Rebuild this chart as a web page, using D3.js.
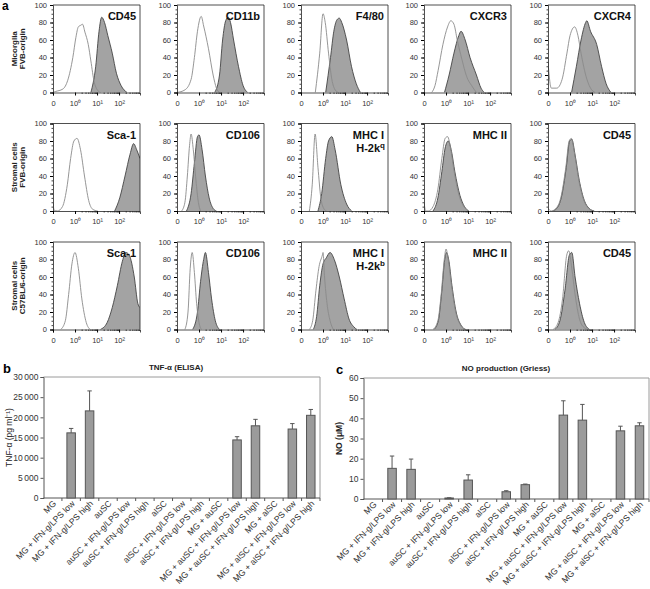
<!DOCTYPE html>
<html><head><meta charset="utf-8">
<script src="https://cdn.jsdelivr.net/npm/d3@7"></script>
<style>body{margin:0;background:#fff}svg{display:block;font-family:"Liberation Sans",Arial,sans-serif}</style>
</head><body><svg id="fig" width="650" height="589"></svg>
<script>
// ---------- DATA ----------
const rowLabels = [["Micorglia","FVB-origin"],["Stromal cells","FVB-origin"],["Stromal cells","C57BL/6-origin"]];
const markerLabels = [
  [["CD45"],["CD11b"],["F4/80"],["CXCR3"],["CXCR4"]],
  [["Sca-1"],["CD106"],["MHC I","H-2k","q"],["MHC II"],["CD45"]],
  [["Sca-1"],["CD106"],["MHC I","H-2k","b"],["MHC II"],["CD45"]]
];
// histogram curves: [log10 fluorescence, % of max]
const isotypeCurves = [
  [
    [[-1,0],[-0.9,1],[-0.55,4],[-0.33,14],[-0.1,40],[0.04,63],[0.15,75],[0.27,77],[0.34,78],[0.45,69],[0.6,55],[0.72,36],[0.87,12],[1.01,3],[1.16,0]],
    [[-1,0],[-0.64,3],[-0.36,15],[-0.21,40],[-0.07,70],[0.1,87],[0.21,76],[0.43,50],[0.64,20],[0.79,5],[0.93,0]],
    [[-0.35,0],[-0.15,45],[0,90],[0.1,80],[0.25,45],[0.4,15],[0.55,3],[0.7,0]],
    [[-0.65,0],[-0.5,8],[-0.36,25],[-0.14,55],[0.07,75],[0.22,82],[0.36,78],[0.51,60],[0.72,38],[0.94,18],[1.16,8],[1.38,0]],
    [[-1,35],[-0.85,5],[-0.6,5],[-0.36,15],[-0.14,45],[0,65],[0.21,75],[0.36,65],[0.5,45],[0.71,20],[0.93,5],[1.14,0]]
  ],
  [
    [[-1,10],[-0.95,1],[-0.8,0],[-0.57,5],[-0.35,30],[-0.2,60],[-0.05,80],[0.09,83],[0.25,70],[0.43,40],[0.62,12],[0.8,2],[1.03,0]],
    [[-0.79,0],[-0.64,10],[-0.53,40],[-0.43,75],[-0.36,88],[-0.26,70],[-0.14,35],[-0.03,10],[0.07,0]],
    [[-0.62,0],[-0.49,30],[-0.36,88],[-0.23,50],[-0.1,15],[0.03,3],[0.16,0]],
    [[-1,10],[-0.92,0],[-0.8,0],[-0.59,5],[-0.37,25],[-0.19,60],[-0.04,83],[0.07,85],[0.22,70],[0.37,45],[0.59,18],[0.81,5],[1.03,0]],
    [[-1,3],[-0.85,0],[-0.64,3],[-0.42,15],[-0.19,50],[-0.04,80],[0.06,83],[0.21,65],[0.4,35],[0.63,12],[0.85,3],[1.07,0]]
  ],
  [
    [[-0.65,0],[-0.44,10],[-0.29,40],[-0.14,75],[0,88],[0.15,70],[0.31,35],[0.51,8],[0.69,0]],
    [[-0.64,0],[-0.5,20],[-0.4,70],[-0.31,88],[-0.21,65],[-0.11,30],[0,8],[0.11,0]],
    [[-0.62,0],[-0.47,10],[-0.32,45],[-0.18,72],[-0.03,85],[0,88],[0.07,60],[0.18,30],[0.32,10],[0.47,0]],
    [[-0.59,0],[-0.37,10],[-0.22,40],[-0.07,82],[0,92],[0.1,80],[0.25,50],[0.44,20],[0.66,5],[0.88,0]],
    [[-0.77,0],[-0.54,8],[-0.34,35],[-0.15,85],[-0.06,90],[0.08,70],[0.23,40],[0.43,12],[0.65,2],[0.85,0]]
  ]
];
const stainedCurves = [
  [
    [[0.72,0],[0.94,30],[1.09,70],[1.21,86],[1.34,80],[1.49,65],[1.69,45],[1.88,22],[2.09,8],[2.36,0]],
    [[0.71,0],[0.93,20],[1.07,60],[1.21,82],[1.33,86],[1.43,80],[1.57,60],[1.79,30],[2.0,8],[2.21,0]],
    [[0.12,0],[0.34,40],[0.49,70],[0.63,83],[0.74,85],[0.85,80],[1.07,60],[1.29,30],[1.51,10],[1.7,0]],
    [[-0.07,0],[0.14,20],[0.36,45],[0.58,65],[0.68,70],[0.87,60],[1.09,40],[1.38,20],[1.59,5],[1.74,0]],
    [[0.07,0],[0.29,30],[0.5,60],[0.71,80],[0.76,82],[0.93,70],[1.21,55],[1.43,30],[1.64,10],[1.86,0]]
  ],
  [
    [[1.8,0],[2.03,15],[2.27,40],[2.5,65],[2.66,77],[2.8,70],[2.95,60]],
    [[-0.57,0],[-0.36,20],[-0.21,55],[-0.07,85],[0,87],[0.14,70],[0.29,40],[0.46,15],[0.64,3],[0.79,0]],
    [[-0.23,0],[-0.06,20],[0.12,60],[0.25,80],[0.4,85],[0.55,70],[0.81,30],[1.07,8],[1.3,0]],
    [[-0.59,0],[-0.37,15],[-0.19,45],[-0.04,72],[0.1,80],[0.25,68],[0.4,45],[0.63,18],[0.84,5],[1.03,0]],
    [[-0.8,0],[-0.6,3],[-0.4,15],[-0.17,50],[-0.02,80],[0.08,82],[0.23,64],[0.42,35],[0.65,12],[0.87,3],[1.1,0]]
  ],
  [
    [[1.15,0],[1.46,8],[1.69,25],[1.92,50],[2.15,78],[2.31,88],[2.46,85],[2.69,60],[2.85,30],[2.95,25]],
    [[-0.29,0],[-0.07,20],[0.07,55],[0.21,80],[0.29,88],[0.43,65],[0.57,35],[0.74,10],[0.93,0]],
    [[-0.44,0],[-0.29,15],[-0.15,50],[0,75],[0.15,82],[0.32,88],[0.51,80],[0.74,60],[0.96,35],[1.18,12],[1.4,3],[1.54,0]],
    [[-0.55,0],[-0.35,10],[-0.2,42],[-0.06,80],[0.02,88],[0.12,80],[0.27,50],[0.46,20],[0.68,5],[0.9,0]],
    [[-0.69,0],[-0.46,10],[-0.23,45],[-0.03,85],[0.08,88],[0.23,60],[0.43,30],[0.65,8],[0.89,0]]
  ]
];
const histYTicks = [0,20,40,60,80,100];
const histXTicks = [-1,0,1,2];
const histXTickLabels = ["0","10\u2070","10\u00b9","10\u00b2"];

const categories = ["MG","MG + IFN-g/LPS low","MG + IFN-g/LPS high","auSC","auSC + IFN-g/LPS low","auSC + IFN-g/LPS high","alSC","alSC + IFN-g/LPS low","alSC + IFN-g/LPS high","MG + auSC","MG + auSC + IFN-g/LPS low","MG + auSC + IFN-g/LPS high","MG + alSC","MG + alSC + IFN-g/LPS low","MG + alSC + IFN-g/LPS high"];
const tnfMeans   = [0,16150,21600,0,0,0,0,0,0,0,14400,17900,0,17100,20500];
const tnfErrTop  = [0,17250,26550,0,0,0,0,0,0,0,15200,19500,0,18450,21950];
const noMeans    = [0,15.2,14.7,0,0.5,9.4,0,3.6,7.1,0,41.6,39.1,0,33.8,36.3];
const noErrTop   = [0,21.3,19.8,0,0.6,12.0,0,4.1,7.4,0,48.7,46.9,0,36.1,37.8];
const tnfTicks = [0,5000,10000,15000,20000,25000,30000];
const noTicks = [0,10,20,30,40,50,60];

// ---------- DRAW ----------
const svg = d3.select("#fig");
const FONT = '"Liberation Sans",Arial,sans-serif';

svg.append("text").attr("x",2).attr("y",10).attr("font-size",12).attr("font-weight","bold").text("a");

const colX = [53,177,301,424,548];
const rowTop = [5,123.5,242];
const pw = 87, ph = 87.5;

rowLabels.forEach((lab, r) => {
  const cy = rowTop[r] + ph/2;
  lab.forEach((t, i) => {
    svg.append("text").attr("transform",`translate(${17+i*7.5},${cy}) rotate(-90)`)
      .attr("text-anchor","middle").attr("font-size",8).attr("font-weight","bold").attr("fill","#222").text(t);
  });
});

for (let r = 0; r < 3; r++) {
  for (let c = 0; c < 5; c++) {
    const x0 = colX[c], y0 = rowTop[r];
    const g = svg.append("g").attr("transform",`translate(${x0},${y0})`);
    const x = d3.scaleLinear().domain([-1, 2.95]).range([0, pw]);
    const y = d3.scaleLinear().domain([0, 100]).range([ph, 0]);
    const clipId = `clip${r}${c}`;
    g.append("clipPath").attr("id",clipId).append("rect").attr("width",pw).attr("height",ph);
    const area = d3.area().x(d=>x(d[0])).y0(y(0)).y1(d=>y(d[1])).curve(d3.curveMonotoneX);
    const line = d3.line().x(d=>x(d[0])).y(d=>y(d[1])).curve(d3.curveMonotoneX);
    const cg = g.append("g").attr("clip-path",`url(#${clipId})`);
    cg.append("path").datum(stainedCurves[r][c]).attr("d",area).attr("fill","#a3a3a3").attr("stroke","none");
    cg.append("path").datum(stainedCurves[r][c]).attr("d",line).attr("fill","none").attr("stroke","#444").attr("stroke-width",0.9);
    cg.append("path").datum(isotypeCurves[r][c]).attr("d",line).attr("fill","none").attr("stroke","#8a8a8a").attr("stroke-width",0.9);
    g.append("path").attr("d",`M0,0H${pw}V${ph}`).attr("fill","none").attr("stroke","#222").attr("stroke-width",0.8);
    const ym = g.append("g").call(d3.axisLeft(y).tickValues(d3.range(0,101,5)).tickSize(1.5).tickFormat(""));
    ym.selectAll("path").remove(); ym.selectAll("line").attr("stroke","#444");
    const ya = g.append("g").call(d3.axisLeft(y).tickValues(histYTicks).tickSize(3).tickPadding(3));
    ya.selectAll("text").attr("font-size",7.5).attr("font-family",FONT).attr("fill","#333");
    ya.select(".domain").attr("stroke","#222").attr("stroke-width",0.8);
    const minor = [];
    for (let d = 0; d <= 2; d++) for (let k = 2; k <= 9; k++) { const v = d + Math.log10(k); if (v < 2.95) minor.push(v); }
    const xm = g.append("g").attr("transform",`translate(0,${ph})`).call(d3.axisBottom(x).tickValues(minor).tickSize(1.5).tickFormat(""));
    xm.selectAll("path").remove(); xm.selectAll("line").attr("stroke","#444");
    const xa = g.append("g").attr("transform",`translate(0,${ph})`)
      .call(d3.axisBottom(x).tickValues(histXTicks).tickSize(3).tickPadding(5).tickFormat((d,i)=>histXTickLabels[i]));
    xa.selectAll("text").attr("font-size",7.5).attr("font-family",FONT).attr("fill","#333");
    xa.select(".domain").attr("stroke","#222").attr("stroke-width",0.8);
    const ml = markerLabels[r][c];
    g.append("text").attr("x",pw-4).attr("y",15).attr("text-anchor","end").attr("font-size",11).attr("font-weight","bold").attr("fill","#111").text(ml[0]);
    if (ml.length > 1) {
      const t = g.append("text").attr("x",pw-3).attr("y",28).attr("text-anchor","end").attr("font-size",11).attr("font-weight","bold").attr("fill","#111");
      t.append("tspan").text(ml[1]);
      t.append("tspan").attr("font-size",8).attr("dy",-4).text(ml[2]);
    }
  }
}

// ---------- BAR CHARTS ----------
function barChart(opt) {
  const {x0, x1, yTop, yBot, means, errs, ticks, title, titleX, ylab, ylabX, ylabBold, letter, letterX, tickFmt} = opt;
  const xb = d3.scaleBand().domain(categories).range([x0, x1]);
  const y = d3.scaleLinear().domain([0, d3.max(ticks)]).range([yBot, yTop]);
  svg.append("path").attr("d",`M${x0},${yTop}H${x1}V${yBot}`).attr("fill","none").attr("stroke","#9a9a9a").attr("stroke-width",1);
  const ya = svg.append("g").attr("transform",`translate(${x0},0)`).call(d3.axisLeft(y).tickValues(ticks).tickSize(3).tickPadding(2).tickFormat(tickFmt));
  ya.selectAll("text").attr("font-size",8.5).attr("font-family",FONT).attr("fill","#333");
  ya.selectAll("line").attr("stroke","#555");
  ya.select(".domain").attr("stroke","#555");
  svg.append("line").attr("x1",x0).attr("x2",x1).attr("y1",yBot).attr("y2",yBot).attr("stroke","#555");
  svg.append("g").selectAll("line").data(categories).join("line")
    .attr("x1",d=>xb(d)+xb.bandwidth()).attr("x2",d=>xb(d)+xb.bandwidth()).attr("y1",yBot).attr("y2",yBot+3).attr("stroke","#555");
  const bw = 8.5;
  svg.append("g").selectAll("rect").data(categories.map((c,i)=>({c, v:means[i], e:errs[i]})).filter(d=>d.v>0)).join("rect")
    .attr("x",d=>xb(d.c)+xb.bandwidth()/2-bw/2).attr("width",bw)
    .attr("y",d=>y(d.v)).attr("height",d=>yBot-y(d.v))
    .attr("fill","#9b9b9b").attr("stroke","#555").attr("stroke-width",1);
  const eg = svg.append("g");
  categories.forEach((c,i)=>{
    if (means[i] <= 0) return;
    const cx = xb(c)+xb.bandwidth()/2;
    eg.append("line").attr("x1",cx).attr("x2",cx).attr("y1",y(means[i])).attr("y2",y(errs[i])).attr("stroke","#555");
    eg.append("line").attr("x1",cx-2.2).attr("x2",cx+2.2).attr("y1",y(errs[i])).attr("y2",y(errs[i])).attr("stroke","#555");
  });
  svg.append("g").selectAll("text").data(categories).join("text")
    .attr("transform",d=>`translate(${xb(d)+xb.bandwidth()/2+2},${yBot+4}) rotate(-45)`)
    .attr("text-anchor","end").attr("dy","0.35em").attr("font-size",8.6).attr("fill","#333").text(d=>d);
  svg.append("text").attr("x",titleX).attr("y",yTop-7).attr("text-anchor","middle").attr("font-size",8).attr("font-weight","bold").attr("fill","#222").text(title);
  svg.append("text").attr("x",letterX).attr("y",yTop-4).attr("font-size",13).attr("font-weight","bold").text(letter);
  const yl = svg.append("text").attr("transform",`translate(${ylabX},${(yTop+yBot)/2}) rotate(-90)`).attr("text-anchor","middle")
    .attr("font-size",8.5).attr("fill","#222");
  if (ylabBold) yl.attr("font-weight","bold");
  yl.text(ylab);
}

barChart({x0:43.5, x1:320, yTop:377, yBot:498, means:tnfMeans, errs:tnfErrTop, ticks:tnfTicks,
  title:"TNF-\u03b1 (ELISA)", titleX:176, ylab:"TNF-\u03b1 (pg ml\u207b\u00b9)", ylabX:12, ylabBold:false,
  letter:"b", letterX:3, tickFmt: d => d === 0 ? "0" : (d/1000) + "\u2009000"});
barChart({x0:363.5, x1:649, yTop:378, yBot:499, means:noMeans, errs:noErrTop, ticks:noTicks,
  title:"NO production (Griess)", titleX:506, ylab:"NO (\u03bcM)", ylabX:342, ylabBold:true,
  letter:"c", letterX:336, tickFmt: d => d});
</script></body></html>
